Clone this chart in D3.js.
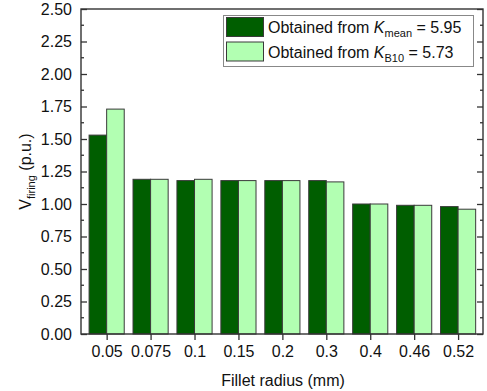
<!DOCTYPE html>
<html>
<head>
<meta charset="utf-8">
<script src="https://cdn.jsdelivr.net/npm/d3@7"></script>
<style>
  html, body { margin: 0; padding: 0; background: #fff; }
  svg { display: block; font-family: "Liberation Sans", Arial, sans-serif; }
</style>
</head>
<body>
<svg id="chart" width="487" height="391"></svg>
<script>
// Fillet radius categories (mm)
const radii = ["0.05", "0.075", "0.1", "0.15", "0.2", "0.3", "0.4", "0.46", "0.52"];
// Firing voltage (p.u.) from K_mean = 5.95
const kMeanValues = [1.53, 1.19, 1.18, 1.18, 1.18, 1.18, 1.00, 0.99, 0.98];
// Firing voltage (p.u.) from K_B10 = 5.73
const kB10Values = [1.73, 1.19, 1.19, 1.18, 1.18, 1.17, 1.00, 0.99, 0.96];
// Y axis tick labels
const yTicks = ["0.00", "0.25", "0.50", "0.75", "1.00", "1.25", "1.50", "1.75", "2.00", "2.25", "2.50"];

const series = [
  { name: "mean", value: "5.95", values: kMeanValues, fill: "#005e00", side: -1 },
  { name: "B10", value: "5.73", values: kB10Values, fill: "#b2ffb2", side: 1 }
];

const FONT = "'Liberation Sans', Arial, sans-serif";
const svg = d3.select("#chart");
const plot = { left: 81, right: 483, top: 9, bottom: 334 };
const axisColor = "#333";

// Category position on a continuous index scale
const x = d3.scaleLinear().domain([0.416, 9.567]).range([plot.left, plot.right]);
const y = d3.scaleLinear().domain([0, 2.5]).range([plot.bottom, plot.top]);
const step = x(2) - x(1);
const barW = step * 0.4;

// Bars
series.forEach(s => {
  svg.append("g").selectAll("rect").data(s.values).join("rect")
    .attr("x", (d, i) => s.side < 0 ? x(i + 1) - barW : x(i + 1))
    .attr("y", d => y(d))
    .attr("width", barW)
    .attr("height", d => y(0) - y(d))
    .attr("fill", s.fill)
    .attr("stroke", "#3a3a3a")
    .attr("stroke-width", 1);
});

// Left axis, ticks pointing inward
const leftAxis = d3.axisLeft(y)
  .tickValues(yTicks.map(Number))
  .tickFormat((d, i) => yTicks[i])
  .tickSizeInner(-6).tickSizeOuter(0).tickPadding(9);
const gl = svg.append("g").attr("transform", `translate(${plot.left},0)`).call(leftAxis)
  .attr("font-family", FONT).attr("font-size", 16);
gl.select(".domain").remove();
gl.selectAll("line").attr("stroke", axisColor).attr("stroke-width", 1.3);
gl.selectAll("text").attr("fill", "#111");

// Minor ticks on left and right
const minor = d3.range(0.125, 2.5, 0.25);
svg.append("g").selectAll("line").data(minor).join("line")
  .attr("x1", plot.left).attr("x2", plot.left + 3)
  .attr("y1", d => y(d)).attr("y2", d => y(d))
  .attr("stroke", axisColor).attr("stroke-width", 1.3);
svg.append("g").selectAll("line").data(minor).join("line")
  .attr("x1", plot.right).attr("x2", plot.right - 3)
  .attr("y1", d => y(d)).attr("y2", d => y(d))
  .attr("stroke", axisColor).attr("stroke-width", 1.3);

// Right axis, major ticks inward, no labels
const rightAxis = d3.axisRight(y).tickValues(yTicks.map(Number)).tickFormat("")
  .tickSizeInner(-6).tickSizeOuter(0);
const gr = svg.append("g").attr("transform", `translate(${plot.right},0)`).call(rightAxis);
gr.select(".domain").remove();
gr.selectAll("line").attr("stroke", axisColor).attr("stroke-width", 1.3);

// Bottom axis, ticks outward
const bottomAxis = d3.axisBottom(x).tickValues(d3.range(1, 10))
  .tickFormat(d => radii[d - 1]).tickSizeInner(6).tickSizeOuter(0).tickPadding(6);
const gb = svg.append("g").attr("transform", `translate(0,${plot.bottom})`).call(bottomAxis)
  .attr("font-family", FONT).attr("font-size", 16);
gb.select(".domain").remove();
gb.selectAll("line").attr("stroke", axisColor).attr("stroke-width", 1.3);
gb.selectAll("text").attr("fill", "#111");

// Frame
svg.append("rect")
  .attr("x", plot.left).attr("y", plot.top)
  .attr("width", plot.right - plot.left).attr("height", plot.bottom - plot.top)
  .attr("fill", "none").attr("stroke", axisColor).attr("stroke-width", 1.4);

// Axis titles
svg.append("text")
  .attr("x", (plot.left + plot.right) / 2 + 1).attr("y", 386)
  .attr("text-anchor", "middle").attr("font-size", 16).attr("fill", "#111")
  .text("Fillet radius (mm)");

const yl = svg.append("text")
  .attr("transform", `translate(31,${(plot.top + plot.bottom) / 2}) rotate(-90)`)
  .attr("text-anchor", "middle").attr("font-size", 16).attr("fill", "#111");
yl.append("tspan").text("V");
yl.append("tspan").attr("font-size", 11).attr("dy", 4).text("firing");
yl.append("tspan").attr("dy", -4).text(" (p.u.)");

// Legend
const lg = svg.append("g");
lg.append("rect").attr("x", 223.5).attr("y", 15.5).attr("width", 250).attr("height", 51)
  .attr("fill", "#fff").attr("stroke", "#888").attr("stroke-width", 1);
series.forEach((s, i) => {
  const yy = 17 + i * 24.5;
  lg.append("rect").attr("x", 226.5).attr("y", yy + 0.5).attr("width", 37).attr("height", 19)
    .attr("fill", s.fill).attr("stroke", "#3a3a3a").attr("stroke-width", 1);
  const t = lg.append("text").attr("x", 268).attr("y", yy + 16)
    .attr("font-size", 16).attr("fill", "#111");
  t.append("tspan").text("Obtained from ");
  t.append("tspan").attr("font-style", "italic").text("K");
  t.append("tspan").attr("font-size", 11).attr("dy", 4).text(s.name);
  t.append("tspan").attr("dy", -4).text(" = " + s.value);
});
</script>
</body>
</html>
